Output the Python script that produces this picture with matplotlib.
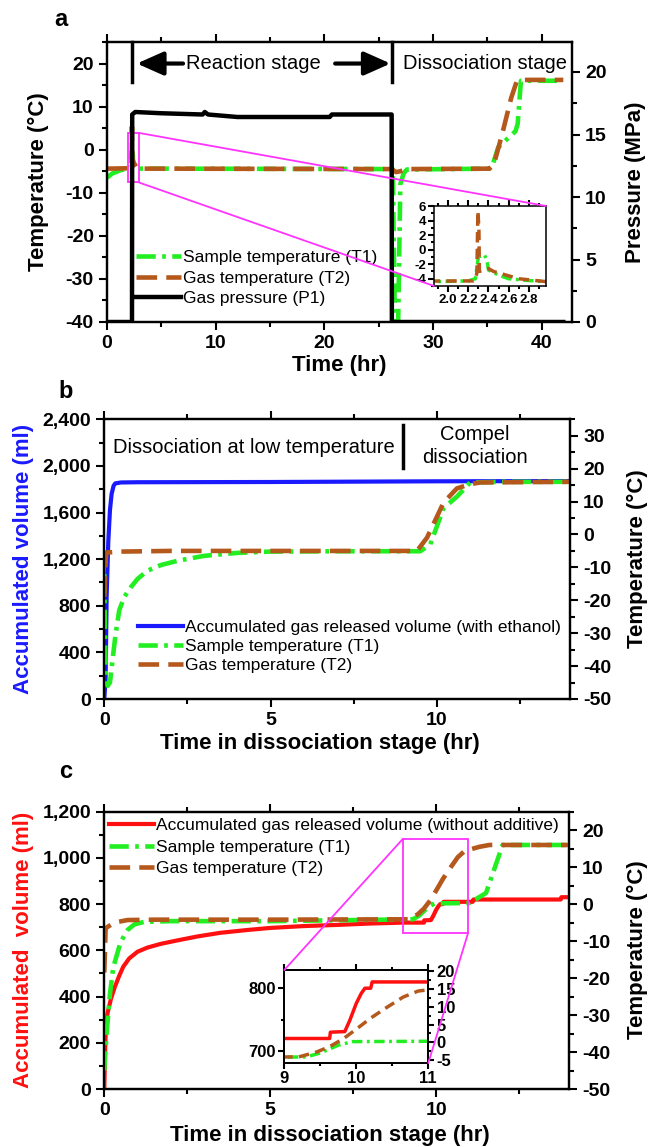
import matplotlib
matplotlib.use('Agg')
import matplotlib.pyplot as plt
from matplotlib.ticker import MultipleLocator, FuncFormatter
from matplotlib.patches import Rectangle, ConnectionPatch

# ---------------- data ----------------
# Panel a (time in hr)
a_time_P = [0, 2.3, 2.32, 2.6, 5, 8.8, 9.0, 9.3, 12, 20.5, 20.7, 26.2, 26.22, 42]
a_P = [0, 0, 16.6, 16.8, 16.7, 16.6, 16.8, 16.6, 16.4, 16.4, 16.6, 16.6, 0, 0]

a_time_T1 = [0, 0.5, 1.2, 1.86, 2.2, 2.27, 2.30, 2.36, 2.385, 2.40, 2.5, 2.6, 2.75, 2.97, 5,
             26.3, 26.5, 26.8, 27.0, 27.3, 27.6, 35.2, 35.5, 36.0, 37.6, 37.8, 38.1, 42]
a_T1 = [-6.5, -5.5, -4.8, -4.4, -4.3, -4.0, -1.0, -0.7, -1.5, -2.8, -3.5, -4.0, -4.2, -4.4, -4.4,
        -4.5, -40, -40, -8, -5.5, -4.6, -4.4, -3.5, 0.5, 4.3, 6.0, 16, 16]

a_time_T2 = [0, 2.25, 2.27, 2.285, 2.295, 2.305, 2.31, 2.40, 2.45, 2.55, 2.7, 2.97, 5,
             26.2, 26.6, 27.0, 27.6, 35.2, 35.6, 36.4, 37.2, 37.7, 38.2, 42]
a_T2 = [-4.4, -4.3, -4.1, -3.2, 5.3, 3.0, -3.0, -2.6, -3.0, -3.4, -4.0, -4.4, -4.4,
        -4.5, -5.2, -5.0, -4.5, -4.4, -3.5, 3.9, 12.0, 15.8, 16.2, 16.2]
a_stage_bounds = [2.33, 26.2]

# Panel b (time in dissociation stage, hr)
b_time_V = [0, 0.04, 0.07, 0.12, 0.17, 0.22, 0.28, 0.33, 0.5, 1.0, 5, 10, 14]
b_V = [0, 190, 880, 1350, 1620, 1760, 1830, 1850, 1858, 1860, 1862, 1868, 1870]
b_time_T1 = [0, 0.02, 0.05, 0.1, 0.17, 0.25, 0.33, 0.45, 0.6, 0.8, 1.0, 1.3, 1.7, 2.2, 3.0,
             4.0, 5.0, 7.0, 9.5, 9.8, 10.2, 10.6, 11.0, 12, 14]
b_T1 = [-12, -30, -45, -46, -45, -38, -31, -23, -19, -16, -13.5, -11, -9.3, -8.0, -6.5,
        -5.6, -5.2, -5.1, -5.1, -3.0, 8.0, 11.5, 15.8, 16, 16]
b_time_T2 = [0, 0.03, 0.06, 0.5, 2, 5, 9.4, 9.7, 10.2, 10.6, 11.0, 11.3, 14]
b_T2 = [-19, -10, -5.5, -5.2, -5.0, -5.0, -5.0, -1.0, 9.7, 14.0, 15.3, 15.8, 16.0]

# Panel c
c_time_V = [0, 0.02, 0.05, 0.1, 0.2, 0.32, 0.45, 0.57, 0.75, 1.0, 1.3, 1.7, 2.2, 2.8, 3.5,
            4.3, 5.0, 6.0, 7.0, 8.0, 9.0, 9.63, 9.64, 9.84, 9.91, 10.0, 10.07, 10.12, 10.2,
            10.22, 11.1, 11.12, 13.75, 13.77, 14.0]
c_V = [0, 150, 280, 330, 390, 443, 490, 529, 565, 594, 612, 628, 643, 660, 676,
       688, 697, 705, 710, 716, 720, 720, 730, 731, 749, 776, 792, 800, 800,
       810, 810, 820, 820, 830, 830]
c_time_T1 = [0, 0.03, 0.07, 0.17, 0.27, 0.49, 0.7, 0.9, 1.2, 2, 5, 9.3, 9.5, 9.75, 9.95,
             11.0, 11.5, 12.0, 14]
c_T1 = [-45, -40, -35, -24.3, -17.1, -10.3, -7, -5.5, -4.8, -4.6, -4.6, -4.1, -3.0, -0.8, 0.2,
        0.3, 3.0, 16, 16]
c_time_T2 = [0, 0.02, 0.04, 0.3, 0.7, 1.5, 5, 9.2, 9.45, 9.63, 9.82, 10.0, 10.2, 10.4,
             10.65, 10.86, 11.3, 11.6, 14]
c_T2 = [-18.5, -12.5, -6.5, -5.0, -4.3, -4.2, -4.2, -4.1, -2.7, -1.2, 1.0, 3.7, 6.8, 9.5,
        12.7, 14.4, 15.5, 16.0, 16.0]

# ---------------- style ----------------
plt.rcParams['font.family'] = ['Liberation Sans', 'DejaVu Sans']
plt.rcParams['font.weight'] = 'bold'
plt.rcParams['axes.labelweight'] = 'bold'
plt.rcParams['axes.unicode_minus'] = False

GREEN = '#22ee22'
BROWN = '#b5581c'
BLUE = '#1a1aff'
RED = '#ff1010'
MAG = '#ff33ff'
DASHDOT = (0, (4.2, 1.4, 0.8, 1.4))
DASHED = (0, (4.5, 2.0))

W, H = 648, 1147
fig = plt.figure(figsize=(W / 100, H / 100), dpi=100)


def rect(l, t, r, b):
    return [l / W, 1 - b / H, (r - l) / W, (b - t) / H]


def style(ax, size=14, top=True, maj=6, mino=3.5):
    ax.tick_params(which='both', direction='out', width=1.5, labelsize=size,
                   top=top, labeltop=False)
    ax.tick_params(which='major', length=maj)
    ax.tick_params(which='minor', length=mino)
    for s in ax.spines.values():
        s.set_linewidth(1.6)


def ylab(ax, text, x, y, color='black', size=16):
    ax.set_ylabel(text, fontsize=size, color=color)
    ax.yaxis.set_label_coords(x / W, 1 - y / H, transform=fig.transFigure)
    ax.yaxis.label.set_verticalalignment('center')
    ax.yaxis.label.set_horizontalalignment('center')


def xlab(ax, text, y, x, size=16):
    ax.set_xlabel(text, fontsize=size)
    ax.xaxis.set_label_coords(x / W, 1 - y / H, transform=fig.transFigure)
    ax.xaxis.label.set_verticalalignment('center')


comma = FuncFormatter(lambda v, p: f'{int(round(v)):,}')
lw = 3.0
lwt = 3.3
LEG = dict(frameon=False, handlelength=2.6, handletextpad=0.1, borderpad=0,
           borderaxespad=0, prop=dict(weight='normal', size=12.5))

# ================= Panel a =================
ax = fig.add_axes(rect(107, 42, 572, 322))
ax2 = ax.twinx()
l1, = ax.plot(a_time_T1, a_T1, color=GREEN, lw=lwt, ls=DASHDOT, label='Sample temperature (T1)')
l2, = ax.plot(a_time_T2, a_T2, color=BROWN, lw=lwt, ls=DASHED, label='Gas temperature (T2)')
l3, = ax2.plot(a_time_P, a_P, color='black', lw=3.2, label='Gas pressure (P1)')
ax.set_xlim(0, 42.8)
ax.set_ylim(-40, 25)
ax2.set_ylim(0, 22.4)
ax.xaxis.set_major_locator(MultipleLocator(10))
ax.xaxis.set_minor_locator(MultipleLocator(5))
ax.yaxis.set_major_locator(MultipleLocator(10))
ax.yaxis.set_minor_locator(MultipleLocator(5))
ax2.yaxis.set_major_locator(MultipleLocator(5))
ax2.yaxis.set_minor_locator(MultipleLocator(2.5))
style(ax)
style(ax2)
ylab(ax, 'Temperature (°C)', 38, 182)
ylab(ax2, 'Pressure (MPa)', 636, 182)
xlab(ax, 'Time (hr)', 365, 339)

for xb in a_stage_bounds:
    ax.plot([xb, xb], [15.6, 25], color='black', lw=2.5, clip_on=False, zorder=5)
ax.annotate('', xy=(2.75, 20), xytext=(7.0, 20),
            arrowprops=dict(arrowstyle='-|>,head_length=0.9,head_width=0.4', lw=3,
                            color='black', mutation_scale=18, shrinkA=0, shrinkB=0))
ax.annotate('', xy=(26.1, 20), xytext=(21.0, 20),
            arrowprops=dict(arrowstyle='-|>,head_length=0.9,head_width=0.4', lw=3,
                            color='black', mutation_scale=18, shrinkA=0, shrinkB=0))
ax.text(13.45, 20, 'Reaction stage', fontsize=14.5, fontweight='normal', ha='center', va='center')
ax.text(27.2, 20, 'Dissociation stage', fontsize=14.5, fontweight='normal', ha='left', va='center')

ax2.legend(handles=[l1, l2, l3], loc='upper left', bbox_to_anchor=(0.062, 0.258),
           labelspacing=0.32, **LEG)

ax.add_patch(Rectangle((1.9, -7.6), 1.03, 11.5, fill=False, edgecolor=MAG, lw=1.3, zorder=6))

axi = fig.add_axes(rect(434, 206, 546, 286))
axi.plot(a_time_T1, a_T1, color=GREEN, lw=2.5, ls=(0, (3, 1.3, 0.8, 1.3)))
axi.plot(a_time_T2, a_T2, color=BROWN, lw=2.5, ls=(0, (3, 1.8)))
axi.set_xlim(1.86, 2.97)
axi.set_ylim(-5, 6)
axi.xaxis.set_major_locator(MultipleLocator(0.2))
axi.xaxis.set_minor_locator(MultipleLocator(0.1))
axi.yaxis.set_major_locator(MultipleLocator(2))
axi.yaxis.set_minor_locator(MultipleLocator(1))
axi.xaxis.set_major_formatter(FuncFormatter(lambda v, p: f'{v:.1f}'))
style(axi, size=9.5, maj=4, mino=2)
for s in axi.spines.values():
    s.set_linewidth(1.1)
axi.tick_params(pad=1.5)

for (xa, ya), (xb_, yb_) in [((2.93, 3.9), (1, 1)), ((2.93, -7.6), (0, 0))]:
    cp = ConnectionPatch(xyA=(xa, ya), coordsA=ax.transData, xyB=(xb_, yb_),
                         coordsB=axi.transAxes, color=MAG, lw=1.3)
    fig.add_artist(cp)

fig.text(61 / W, 1 - 20 / H, 'a', fontsize=17, ha='center', va='center')

# ================= Panel b =================
bx = fig.add_axes(rect(104.3, 419.3, 570, 699))
bx2 = bx.twinx()
m1, = bx.plot(b_time_V, b_V, color=BLUE, lw=lw, label='Accumulated gas released volume (with ethanol)', zorder=3)
m2, = bx2.plot(b_time_T1, b_T1, color=GREEN, lw=lwt, ls=DASHDOT, label='Sample temperature (T1)')
m3, = bx2.plot(b_time_T2, b_T2, color=BROWN, lw=lwt, ls=DASHED, label='Gas temperature (T2)')
bx.set_xlim(0, 14)
bx.set_ylim(0, 2400)
bx2.set_ylim(-50, 35)
bx.xaxis.set_major_locator(MultipleLocator(5))
bx.xaxis.set_minor_locator(MultipleLocator(2.5))
bx.yaxis.set_major_locator(MultipleLocator(400))
bx.yaxis.set_minor_locator(MultipleLocator(200))
bx.yaxis.set_major_formatter(comma)
bx2.yaxis.set_major_locator(MultipleLocator(10))
bx2.yaxis.set_minor_locator(MultipleLocator(5))
style(bx)
style(bx2)
ylab(bx, 'Accumulated volume (ml)', 24, 559, color=BLUE)
ylab(bx2, 'Temperature (°C)', 637, 559)
xlab(bx, 'Time in dissociation stage (hr)', 743, 320)
bx.text(0.018, 0.9, 'Dissociation at low temperature', transform=bx.transAxes, fontsize=14.5,
        fontweight='normal', ha='left', va='center')
bx.plot([0.642, 0.642], [0.825, 0.979], transform=bx.transAxes, color='black', lw=2.5)
bx.text(0.795, 0.905, 'Compel\ndissociation', transform=bx.transAxes, fontsize=14.5,
        fontweight='normal', ha='center', va='center', linespacing=1.25)
bx2.legend(handles=[m1, m2, m3], loc='upper left', bbox_to_anchor=(0.072, 0.282),
           labelspacing=0.22, **LEG)
fig.text(66 / W, 1 - 391 / H, 'b', fontsize=17, ha='center', va='center')

# ================= Panel c =================
cx = fig.add_axes(rect(104.3, 811.7, 569, 1089))
cx2 = cx.twinx()
n1, = cx.plot(c_time_V, c_V, color=RED, lw=lw, label='Accumulated gas released volume (without additive)', zorder=3)
n2, = cx2.plot(c_time_T1, c_T1, color=GREEN, lw=lwt, ls=DASHDOT, label='Sample temperature (T1)')
n3, = cx2.plot(c_time_T2, c_T2, color=BROWN, lw=lwt, ls=DASHED, label='Gas temperature (T2)')
cx.set_xlim(0, 14)
cx.set_ylim(0, 1200)
cx2.set_ylim(-50, 25)
cx.xaxis.set_major_locator(MultipleLocator(5))
cx.xaxis.set_minor_locator(MultipleLocator(2.5))
cx.yaxis.set_major_locator(MultipleLocator(200))
cx.yaxis.set_minor_locator(MultipleLocator(100))
cx.yaxis.set_major_formatter(comma)
cx2.yaxis.set_major_locator(MultipleLocator(10))
cx2.yaxis.set_minor_locator(MultipleLocator(5))
style(cx)
style(cx2)
ylab(cx, 'Accumulated  volume (ml)', 24, 950, color=RED)
ylab(cx2, 'Temperature (°C)', 637, 950)
xlab(cx, 'Time in dissociation stage (hr)', 1135, 330)
cx2.legend(handles=[n1, n2, n3], loc='upper left', bbox_to_anchor=(0.01, 0.978),
           labelspacing=0.38, **LEG)
cx2.add_patch(Rectangle((9.0, -7.8), 1.96, 25.5, fill=False, edgecolor=MAG, lw=1.3, zorder=6))

ci = fig.add_axes(rect(284.3, 970, 428.3, 1063))
ci2 = ci.twinx()
ci.plot(c_time_V, c_V, color=RED, lw=2.5, zorder=3)
ci2.plot(c_time_T1, c_T1, color=GREEN, lw=2.5, ls=(0, (3, 1.3, 0.8, 1.3)))
ci2.plot(c_time_T2, c_T2, color=BROWN, lw=2.5, ls=(0, (3, 1.8)))
ci.set_xlim(9, 11)
ci.set_ylim(681, 829)
ci2.set_ylim(-5.8, 20.3)
ci.xaxis.set_major_locator(MultipleLocator(1))
ci.xaxis.set_minor_locator(MultipleLocator(0.5))
ci.yaxis.set_major_locator(MultipleLocator(100))
ci.yaxis.set_minor_locator(MultipleLocator(50))
ci2.yaxis.set_major_locator(MultipleLocator(5))
ci2.yaxis.set_minor_locator(MultipleLocator(2.5))
style(ci, size=12, maj=4.5, mino=2.5)
style(ci2, size=12, maj=4.5, mino=2.5)
for a_ in (ci, ci2):
    for s in a_.spines.values():
        s.set_linewidth(1.3)
    a_.tick_params(pad=1.5)

for (xa, ya), (xb_, yb_) in [((9.0, 17.7), (0, 1)), ((10.96, -7.8), (1, 0))]:
    cp = ConnectionPatch(xyA=(xa, ya), coordsA=cx2.transData, xyB=(xb_, yb_),
                         coordsB=ci.transAxes, color=MAG, lw=1.3)
    fig.add_artist(cp)

fig.text(66 / W, 1 - 772 / H, 'c', fontsize=17, ha='center', va='center')

fig.savefig('out.png', dpi=100, facecolor='white')
